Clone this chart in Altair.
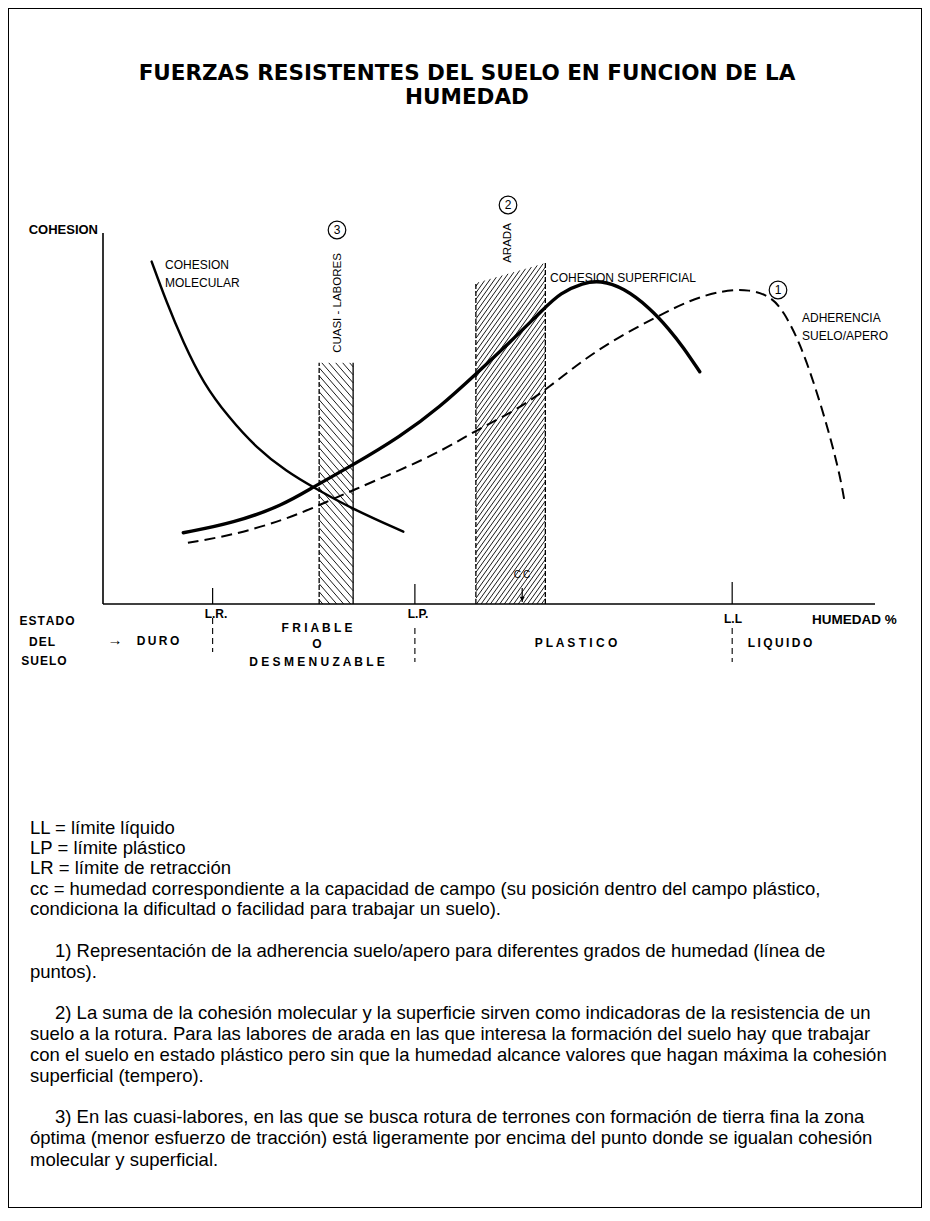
import altair as alt
import pandas as pd

# ------------------------------------------------------------------
# DATA. Units: x = humedad (0 at the y axis,
# 100 at the end of the x axis), y = cohesion (0 at the x axis, 100 at
# the top of the y axis).
# ------------------------------------------------------------------
mol_x = [6.3, 8.2, 10.4, 13.0, 16.2, 19.9, 23.8, 27.2, 32.4, 38.9]
mol_y = [92.3, 81.5, 70.5, 59.5, 50.5, 42.0, 35.7, 31.5, 25.5, 19.5]

sup_x = [10.4, 16.9, 23.4, 27.2, 32.4, 38.5, 43.7, 48.3, 52.7, 57.2, 59.2,
         62.2, 64.4, 67.4, 70.9, 73.4, 75.1, 77.3]
sup_y = [19.2, 21.8, 26.7, 31.5, 37.5, 45.1, 53.2, 62.0, 70.5, 79.8, 83.8,
         86.6, 87.2, 85.3, 79.7, 73.9, 69.4, 62.6]

adh_x = [11.0, 16.9, 23.4, 28.1, 32.4, 38.5, 44.1, 48.4, 53.6, 57.9, 62.2,
         66.5, 71.7, 76.0, 80.3, 83.8, 86.4, 88.1, 90.3, 92.4, 94.2, 95.5, 96.1]
adh_y = [16.5, 18.6, 22.6, 26.7, 30.7, 36.1, 41.5, 46.9, 52.3, 58.6, 65.8,
         71.6, 77.4, 81.9, 84.6, 84.8, 83.0, 79.2, 70.3, 57.7, 45.1, 34.3, 27.1]

# hatched bands
band_names = ["CUASI - LABORES", "ARADA"]
band_x0 = [28.0, 48.3]
band_x1 = [32.4, 57.3]
band_top_left = [65.0, 86.5]
band_top_right = [65.0, 91.9]
band_dir = ["\\", "/"]

# limits on the humidity axis
limit_names = ["L.R.", "L.P.", "L.L"]
limit_x = [14.2, 40.4, 81.5]
limit_tick = [4.3, 5.4, 5.9]

cc_x = 54.3

title_lines = ["FUERZAS RESISTENTES DEL SUELO EN FUNCION DE LA", "HUMEDAD"]

notes = [
    "LL = límite líquido",
    "LP = límite plástico",
    "LR = límite de retracción",
    "cc = humedad correspondiente a la capacidad de campo (su posición dentro del campo plástico,",
    "condiciona la dificultad o facilidad para trabajar un suelo).",
    "1) Representación de la adherencia suelo/apero para diferentes grados de humedad (línea de",
    "puntos).",
    "2) La suma de la cohesión molecular y la superficie sirven como indicadoras de la resistencia de un",
    "suelo a la rotura. Para las labores de arada en las que interesa la formación del suelo hay que trabajar",
    "con el suelo en estado plástico pero sin que la humedad alcance valores que hagan máxima la cohesión",
    "superficial (tempero).",
    "3) En las cuasi-labores, en las que se busca rotura de terrones con formación de tierra fina la zona",
    "óptima (menor esfuerzo de tracción) está ligeramente por encima del punto donde se igualan cohesión",
    "molecular y superficial.",
]

# ------------------------------------------------------------------
# LAYOUT (page pixels)
# ------------------------------------------------------------------
W, H = 914, 1200
OFF = 8
X0, X100 = 103, 875
Y0, Y100 = 604, 233


def ux(px):
    return (px - X0) * 100.0 / (X100 - X0)


def uy(py):
    return (Y0 - py) * 100.0 / (Y0 - Y100)


def pxof(u):
    return X0 + u * (X100 - X0) / 100.0


def pyof(u):
    return Y0 - u * (Y0 - Y100) / 100.0


xs = alt.Scale(domain=[ux(OFF), ux(OFF + W)], nice=False, zero=False)
ys = alt.Scale(domain=[uy(OFF + H), uy(OFF)], nice=False, zero=False)


def X(f):
    return alt.X(f, type="quantitative", scale=xs, axis=None)


def Y(f):
    return alt.Y(f, type="quantitative", scale=ys, axis=None)


FONT = "Liberation Sans"

# ------------------------------------------------------------------
# curves
# ------------------------------------------------------------------
def line_layer(xv, yv, width, dash=None):
    df = pd.DataFrame({"x": xv, "y": yv})
    kw = dict(color="black", strokeWidth=width, interpolate="basis",
              strokeCap="round")
    if dash:
        kw["strokeDash"] = dash
        kw["strokeCap"] = "butt"
    return alt.Chart(df).mark_line(**kw).encode(x=X("x"), y=Y("y"))


curves = [
    line_layer(mol_x, mol_y, 2.4),
    line_layer(sup_x, sup_y, 3.4),
    line_layer(adh_x, adh_y, 2.0, [11, 6]),
]

# ------------------------------------------------------------------
# axes, ticks, dashed limit lines
# ------------------------------------------------------------------
axes_df = pd.DataFrame({"x": [0, 0], "y": [0, 0], "x2": [100, 0], "y2": [0, 100]})
axes = alt.Chart(axes_df).mark_rule(color="black", strokeWidth=1.6).encode(
    x=X("x"), y=Y("y"), x2="x2:Q", y2="y2:Q")

ticks_df = pd.DataFrame({"x": limit_x, "y": [0] * 3, "y2": limit_tick})
ticks = alt.Chart(ticks_df).mark_rule(color="black", strokeWidth=1.2).encode(
    x=X("x"), y=Y("y"), y2="y2:Q")

dl_top = [uy(618), uy(628), uy(628)]
dl_bot = [uy(652), uy(662), uy(662)]
dl_df = pd.DataFrame({"x": limit_x, "y": dl_top, "y2": dl_bot})
dlines = alt.Chart(dl_df).mark_rule(color="black", strokeWidth=1.1,
                                    strokeDash=[6, 4]).encode(
    x=X("x"), y=Y("y"), y2="y2:Q")

# ------------------------------------------------------------------
# hatched bands
# ------------------------------------------------------------------
def hatch(x0u, x1u, tlu, tru, direction, step, k):
    xl, xr = pxof(x0u), pxof(x1u)
    yb = pyof(0)
    tl, tr = pyof(tlu), pyof(tru)
    s = (tr - tl) / (xr - xl)
    segs = []
    if direction == "/":
        c = tl + k * xl + step * 0.5
        cend = yb + k * xr
        while c < cend:
            xa = max(xl, (c - yb) / k)
            xb = min(xr, (c - tl + s * xl) / (k + s))
            if xb > xa:
                segs.append((xa, c - k * xa, xb, c - k * xb))
            c += step
    else:
        c = tr - k * xr + step * 0.5
        cend = yb - k * xl
        while c < cend:
            xa = max(xl, (tl - s * xl - c) / (k - s))
            xb = min(xr, (yb - c) / k)
            if xb > xa:
                segs.append((xa, c + k * xa, xb, c + k * xb))
            c += step
    return [(ux(a), uy(b), ux(cc), uy(d)) for a, b, cc, d in segs]


hrows = []
for i in range(len(band_names)):
    step = 8.0 if band_dir[i] == "\\" else 6.5
    k = 1.15 if band_dir[i] == "\\" else 1.4
    for a, b, c2, d in hatch(band_x0[i], band_x1[i], band_top_left[i],
                             band_top_right[i], band_dir[i], step, k):
        hrows.append({"x": a, "y": b, "x2": c2, "y2": d})
hatch_df = pd.DataFrame(hrows)
hatches = alt.Chart(hatch_df).mark_rule(color="black", strokeWidth=0.9).encode(
    x=X("x"), y=Y("y"), x2="x2:Q", y2="y2:Q")

# band sides
side_dash = pd.DataFrame({
    "x": [band_x0[0], band_x0[1], band_x1[1]],
    "y": [0, 0, 0],
    "y2": [band_top_left[0], band_top_left[1], band_top_right[1]],
})
sides_d = alt.Chart(side_dash).mark_rule(color="black", strokeWidth=1.3,
                                          strokeDash=[5, 2]).encode(
    x=X("x"), y=Y("y"), y2="y2:Q")
side_solid = pd.DataFrame({"x": [band_x1[0]], "y": [0], "y2": [band_top_right[0]]})
sides_s = alt.Chart(side_solid).mark_rule(color="black", strokeWidth=1.3).encode(
    x=X("x"), y=Y("y"), y2="y2:Q")

# cc arrow
cc_df = pd.DataFrame({"x": [cc_x], "y": [uy(588)], "y2": [uy(602)]})
cc_rule = alt.Chart(cc_df).mark_rule(color="black", strokeWidth=1.2).encode(
    x=X("x"), y=Y("y"), y2="y2:Q")
cc_head = alt.Chart(pd.DataFrame({"x": [cc_x], "y": [uy(599)]})).mark_point(
    shape="triangle-down", filled=True, color="black", size=26, opacity=1).encode(
    x=X("x"), y=Y("y"))

# circled numbers
circ_df = pd.DataFrame({"x": [ux(778), ux(508), ux(337)],
                        "y": [uy(290), uy(205), uy(230)],
                        "t": ["1", "2", "3"]})
circles = alt.Chart(circ_df).mark_point(shape="circle", filled=False,
                                         color="black", size=310,
                                         strokeWidth=1.2, opacity=1).encode(
    x=X("x"), y=Y("y"))
circ_txt = alt.Chart(circ_df).mark_text(font=FONT, fontSize=12, color="black",
                                         baseline="middle", align="center").encode(
    x=X("x"), y=Y("y"), text="t:N")

# ------------------------------------------------------------------
# text labels
# ------------------------------------------------------------------
def text_layer(rows, **kw):
    df = pd.DataFrame({"t": [r[0] for r in rows],
                       "x": [ux(r[1]) for r in rows],
                       "y": [uy(r[2]) for r in rows]})
    base = dict(font=FONT, color="black", baseline="middle")
    base.update(kw)
    return alt.Chart(df).mark_text(**base).encode(x=X("x"), y=Y("y"), text="t:N")


title_txt = text_layer([(title_lines[0], 467, 74), (title_lines[1], 467, 98)],
                       fontSize=21.5, fontWeight="bold", align="center",
                       font="DejaVu Sans")

curve_lbl = text_layer([
    ("COHESION", 165, 265), ("MOLECULAR", 165, 283),
    ("COHESION SUPERFICIAL", 550, 278),
    ("ADHERENCIA", 802, 318), ("SUELO/APERO", 802, 336),
], fontSize=12, align="left")

axis_lbl_r = text_layer([("COHESION", 98, 230)], fontSize=13, align="right",
                        fontWeight="bold")
axis_lbl_l = text_layer([("HUMEDAD %", 812, 620)], fontSize=13.5, align="left",
                        fontWeight="bold")

sp = "\u2009"
hs = "\u200a"
state_lbl = text_layer([
    (hs.join("ESTADO"), 47, 621), (hs.join("DEL"), 42, 642),
    (hs.join("SUELO"), 44, 661),
    (sp.join("DURO"), 158, 641),
    ("L.R.", 216, 614), ("L.P.", 418, 614), ("L.L", 733, 619),
    (" ".join("FRIABLE"), 317, 628), ("O", 317, 644),
    (" ".join("DESMENUZABLE"), 317, 662),
    ("  ".join("PLASTICO"), 576, 643), (sp.join("LIQUIDO"), 780, 643),
], fontSize=12, align="center", fontWeight="bold")

arrow_lbl = text_layer([("→", 115, 640)], fontSize=15, align="center",
                       fontWeight="bold")

cc_lbl = text_layer([(sp.join("CC"), 522, 575)], fontSize=10, align="center")

rot_lbl = text_layer([("ARADA", 508, 243), ("CUASI - LABORES", 338, 303)],
                     fontSize=11.5, align="center", angle=270)

note_y = [828, 848, 868, 889, 909, 951, 972, 1013, 1034, 1055, 1076, 1117,
          1138, 1160]
note_x = [30, 30, 30, 30, 30, 55, 30, 55, 30, 30, 30, 55, 30, 30]
notes_lbl = text_layer([(notes[i], note_x[i], note_y[i]) for i in range(len(notes))],
                       fontSize=18.5, align="left")

chart = alt.layer(
    hatches, sides_d, sides_s, axes, ticks, dlines, *curves,
    cc_rule, cc_head, circles, circ_txt,
    title_txt, curve_lbl, axis_lbl_r, axis_lbl_l, state_lbl, arrow_lbl, cc_lbl,
    rot_lbl, notes_lbl,
).properties(
    width=W, height=H, padding=0, autosize=alt.AutoSizeParams(type="none"),
    background="white",
).configure_view(stroke="black", strokeWidth=2)

chart.save("out.html", embed_options={"renderer": "svg", "actions": False})
